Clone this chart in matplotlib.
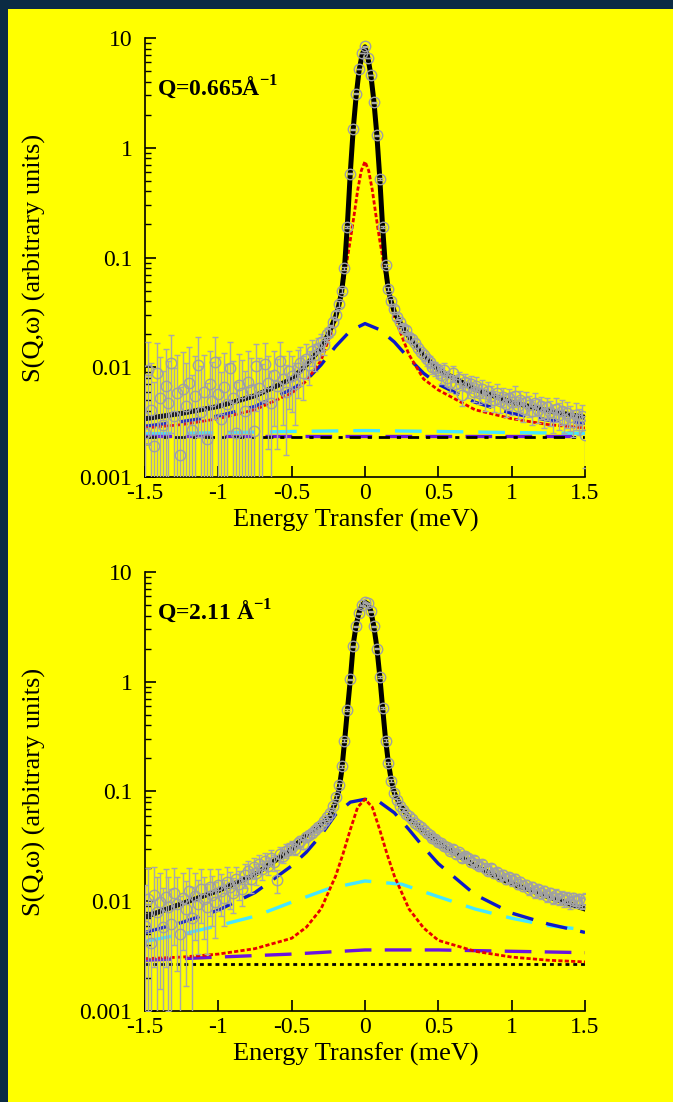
import numpy as np
import matplotlib
matplotlib.use('Agg')
import matplotlib.pyplot as plt
from matplotlib.patches import Rectangle
from matplotlib.ticker import FixedLocator, LogLocator, NullFormatter

plt.rcParams['font.family'] = ['Liberation Serif', 'DejaVu Serif']
plt.rcParams['mathtext.fontset'] = 'custom'
plt.rcParams['mathtext.rm'] = 'Liberation Serif'
plt.rcParams['mathtext.bf'] = 'Liberation Serif:bold'
plt.rcParams['axes.unicode_minus'] = False

# energy bins of the measured points (meV), step 0.02
energy = np.round(np.linspace(-1.5, 1.5, 151), 2)

# ---------------- Q = 0.665 ----------------
top_data = [
    0.0025, 0.0095, 0.0041, 0.0019, 0.0088, 0.0053, 0.0030, 0.0068, 0.0047, 0.0110,
    0.0036, 0.0058, 0.0016, 0.0064, 0.0044, 0.0072, 0.0027, 0.0055, 0.0105, 0.0039,
    0.0060, 0.0022, 0.0070, 0.0049, 0.0112, 0.0057, 0.0034, 0.0066, 0.0046, 0.0098,
    0.0052, 0.0025, 0.0069, 0.0058, 0.0040, 0.0074, 0.0062, 0.0026, 0.0102, 0.0065,
    0.0055, 0.0108, 0.0072, 0.0047, 0.0085, 0.0068, 0.0115, 0.0078, 0.0060, 0.0092,
    0.0083, 0.0070, 0.0098, 0.0110, 0.0088, 0.0120, 0.0105, 0.0140, 0.0128, 0.0150,
    0.0170, 0.0160, 0.0200, 0.0215, 0.0260, 0.0300, 0.0380, 0.0500, 0.0800, 0.1900,
    0.58, 1.48, 3.1, 5.2, 7.3, 8.4, 6.6, 4.6, 2.6, 1.30,
    0.52, 0.19, 0.085, 0.052, 0.040, 0.034, 0.029, 0.026, 0.023, 0.022,
    0.019, 0.018, 0.0165, 0.0150, 0.0138, 0.0130, 0.0118, 0.0112, 0.0100, 0.0098,
    0.0094, 0.0085, 0.0095, 0.0080, 0.0072, 0.0088, 0.0070, 0.0078, 0.0056, 0.0074,
    0.0066, 0.0071, 0.0060, 0.0068, 0.0058, 0.0064, 0.0052, 0.0061, 0.0055, 0.0050,
    0.0058, 0.0049, 0.0054, 0.0046, 0.0052, 0.0048, 0.0055, 0.0044, 0.0050, 0.0042,
    0.0048, 0.0045, 0.0040, 0.0047, 0.0041, 0.0044, 0.0038, 0.0043, 0.0039, 0.0035,
    0.0042, 0.0037, 0.0040, 0.0034, 0.0038, 0.0035, 0.0032, 0.0037, 0.0033, 0.0036,
    0.0024]
top_err = [
    0.0060, 0.0075, 0.0068, 0.0055, 0.0080, 0.0070, 0.0062, 0.0078, 0.0066, 0.0085,
    0.0062, 0.0072, 0.0050, 0.0074, 0.0066, 0.0080, 0.0058, 0.0072, 0.0082, 0.0064,
    0.0068, 0.0050, 0.0072, 0.0062, 0.0078, 0.0066, 0.0056, 0.0070, 0.0060, 0.0072,
    0.0062, 0.0048, 0.0064, 0.0058, 0.0052, 0.0066, 0.0060, 0.0044, 0.0062, 0.0056,
    0.0052, 0.0060, 0.0054, 0.0046, 0.0056, 0.0050, 0.0054, 0.0048, 0.0044, 0.0050,
    0.0044, 0.0040, 0.0046, 0.0042, 0.0038, 0.0042, 0.0036, 0.0038, 0.0035, 0.0034,
    0.0032, 0.0030, 0.0029, 0.0027, 0.0026, 0.0024, 0.0024, 0.0024, 0.0026, 0.0040,
    0.008, 0.015, 0.025, 0.035, 0.040, 0.045, 0.040, 0.030, 0.022, 0.015,
    0.008, 0.004, 0.0025, 0.0022, 0.0020, 0.0020, 0.0018, 0.0018, 0.0017, 0.0017,
    0.0016, 0.0016, 0.0016, 0.0015, 0.0015, 0.0015, 0.0015, 0.0014, 0.0014, 0.0014,
    0.0014, 0.0014, 0.0014, 0.0013, 0.0013, 0.0014, 0.0013, 0.0013, 0.0012, 0.0013,
    0.0013, 0.0013, 0.0012, 0.0013, 0.0012, 0.0012, 0.0012, 0.0012, 0.0012, 0.0011,
    0.0012, 0.0011, 0.0011, 0.0011, 0.0011, 0.0011, 0.0012, 0.0010, 0.0011, 0.0010,
    0.0011, 0.0010, 0.0010, 0.0011, 0.0010, 0.0010, 0.0010, 0.0010, 0.0010, 0.0010,
    0.0010, 0.0010, 0.0010, 0.0009, 0.0010, 0.0009, 0.0009, 0.0010, 0.0009, 0.0009,
    0.0012]

top_fit_x = [-1.5, -1.25, -1.0, -0.75, -0.5, -0.4, -0.3, -0.25, -0.2, -0.18, -0.16, -0.14,
             -0.12, -0.1, -0.08, -0.06, -0.04, -0.02, 0, 0.02, 0.04, 0.06, 0.08, 0.1,
             0.12, 0.14, 0.16, 0.18, 0.2, 0.25, 0.3, 0.4, 0.5, 0.75, 1.0, 1.25, 1.5]
top_fit_y = [0.0034, 0.0038, 0.0044, 0.0055, 0.0078, 0.0105, 0.015, 0.02, 0.029, 0.036, 0.048, 0.08,
             0.2, 0.6, 1.5, 3.0, 5.1, 7.0, 8.3, 6.6, 4.6, 2.7, 1.35, 0.55,
             0.19, 0.08, 0.05, 0.039, 0.032, 0.024, 0.019, 0.0128, 0.0095, 0.0063, 0.0048, 0.0040, 0.0035]

top_red_x = [-1.5, -1.25, -1.0, -0.75, -0.5, -0.4, -0.3, -0.2, -0.15, -0.1, -0.075, -0.05, -0.025, 0,
             0.025, 0.05, 0.075, 0.1, 0.15, 0.2, 0.3, 0.4, 0.5, 0.75, 1.0, 1.25, 1.5]
top_red_y = [0.0028, 0.0030, 0.0034, 0.0041, 0.0058, 0.0075, 0.0115, 0.027, 0.055, 0.145, 0.24, 0.41, 0.62, 0.75,
             0.62, 0.41, 0.24, 0.145, 0.058, 0.029, 0.013, 0.0078, 0.0062, 0.0041, 0.0034, 0.0030, 0.0028]

top_blue_x = [-1.5, -1.25, -1.0, -0.75, -0.5, -0.4, -0.3, -0.2, -0.1, 0, 0.1, 0.2, 0.3, 0.4, 0.5,
              0.75, 1.0, 1.25, 1.5]
top_blue_y = [0.0029, 0.0032, 0.0036, 0.0044, 0.0063, 0.0076, 0.0105, 0.0155, 0.0215, 0.025, 0.022,
              0.017, 0.012, 0.0088, 0.0070, 0.0048, 0.0038, 0.0033, 0.0031]

top_cyan_x = [-1.5, -1.0, -0.5, 0, 0.5, 1.0, 1.5]
top_cyan_y = [0.00248, 0.00253, 0.0026, 0.00265, 0.0026, 0.00254, 0.0025]
top_purple_x = [-1.5, 1.5]
top_purple_y = [0.00235, 0.00235]
top_bg_x = [-1.5, 1.5]
top_bg_y = [0.00232, 0.00232]

# ---------------- Q = 2.11 ----------------
bot_data = [
    0.0060, 0.0105, 0.0042, 0.0115, 0.0080, 0.0098, 0.0058, 0.0110, 0.0088, 0.0062,
    0.0120, 0.0095, 0.0050, 0.0108, 0.0085, 0.0125, 0.0070, 0.0112, 0.0095, 0.0130,
    0.0105, 0.0088, 0.0135, 0.0115, 0.0098, 0.0140, 0.0125, 0.0108, 0.0150, 0.0135,
    0.0120, 0.0160, 0.0145, 0.0130, 0.0175, 0.0190, 0.0158, 0.0205, 0.0180, 0.0220,
    0.0195, 0.0235, 0.0210, 0.0250, 0.0228, 0.0155, 0.0270, 0.0258, 0.0290, 0.0300,
    0.0315, 0.0300, 0.0340, 0.0355, 0.0330, 0.0385, 0.0400, 0.0420, 0.0450, 0.0470,
    0.0500, 0.0540, 0.0580, 0.0640, 0.0740, 0.0900, 0.115, 0.17, 0.29, 0.55,
    1.05, 2.1, 3.2, 4.2, 5.0, 5.3, 5.2, 4.4, 3.2, 2.0,
    1.1, 0.58, 0.29, 0.18, 0.125, 0.097, 0.083, 0.074, 0.068, 0.063,
    0.060, 0.056, 0.052, 0.050, 0.047, 0.045, 0.042, 0.040, 0.038, 0.037,
    0.035, 0.034, 0.032, 0.031, 0.029, 0.030, 0.027, 0.028, 0.025, 0.026,
    0.025, 0.023, 0.024, 0.022, 0.021, 0.022, 0.020, 0.019, 0.020, 0.018,
    0.0185, 0.017, 0.0175, 0.016, 0.0165, 0.0155, 0.016, 0.0145, 0.015, 0.0138,
    0.0142, 0.0130, 0.0135, 0.0122, 0.0128, 0.0118, 0.0124, 0.0112, 0.0118, 0.0108,
    0.0114, 0.0105, 0.0110, 0.0102, 0.0108, 0.0098, 0.0106, 0.0100, 0.0104, 0.0097,
    0.0105]
bot_err = [
    0.0080, 0.0095, 0.0060, 0.0090, 0.0085, 0.0082, 0.0075, 0.0085, 0.0078, 0.0068,
    0.0080, 0.0072, 0.0062, 0.0072, 0.0068, 0.0075, 0.0064, 0.0068, 0.0062, 0.0066,
    0.0060, 0.0055, 0.0062, 0.0056, 0.0052, 0.0058, 0.0052, 0.0048, 0.0054, 0.0050,
    0.0042, 0.0046, 0.0042, 0.0040, 0.0044, 0.0045, 0.0040, 0.0044, 0.0040, 0.0042,
    0.0040, 0.0042, 0.0038, 0.0042, 0.0038, 0.0036, 0.0040, 0.0036, 0.0040, 0.0036,
    0.0036, 0.0034, 0.0036, 0.0035, 0.0033, 0.0035, 0.0034, 0.0034, 0.0034, 0.0033,
    0.0033, 0.0033, 0.0033, 0.0034, 0.0035, 0.0038, 0.004, 0.005, 0.008, 0.012,
    0.02, 0.03, 0.04, 0.045, 0.05, 0.05, 0.05, 0.045, 0.04, 0.03,
    0.02, 0.012, 0.008, 0.005, 0.004, 0.0035, 0.0033, 0.0032, 0.0031, 0.003,
    0.003, 0.0029, 0.0028, 0.0028, 0.0027, 0.0027, 0.0026, 0.0026, 0.0025, 0.0025,
    0.0025, 0.0024, 0.0024, 0.0023, 0.0023, 0.0023, 0.0022, 0.0022, 0.0021, 0.0021,
    0.0021, 0.002, 0.002, 0.002, 0.0019, 0.0019, 0.0019, 0.0018, 0.0018, 0.0018,
    0.0018, 0.0017, 0.0017, 0.0017, 0.0017, 0.0016, 0.0016, 0.0016, 0.0016, 0.0015,
    0.0015, 0.0015, 0.0015, 0.0015, 0.0014, 0.0014, 0.0014, 0.0014, 0.0014, 0.0014,
    0.0014, 0.0013, 0.0013, 0.0013, 0.0013, 0.0013, 0.0013, 0.0013, 0.0013, 0.0012,
    0.0013]

bot_fit_x = [-1.5, -1.25, -1.0, -0.75, -0.5, -0.4, -0.3, -0.24, -0.2, -0.18, -0.16, -0.14, -0.12,
             -0.1, -0.08, -0.06, -0.04, -0.02, 0, 0.02, 0.04, 0.06, 0.08, 0.1, 0.12, 0.14,
             0.16, 0.18, 0.2, 0.24, 0.3, 0.4, 0.5, 0.75, 1.0, 1.25, 1.5]
bot_fit_y = [0.0072, 0.0095, 0.0125, 0.0175, 0.030, 0.040, 0.050, 0.060, 0.080, 0.10, 0.15, 0.28, 0.55,
             1.05, 2.2, 3.3, 4.3, 5.0, 5.3, 5.1, 4.4, 3.2, 2.1, 1.15, 0.58, 0.30,
             0.18, 0.125, 0.097, 0.075, 0.058, 0.044, 0.034, 0.021, 0.0145, 0.011, 0.0085]

bot_red_x = [-1.5, -1.25, -1.0, -0.75, -0.5, -0.4, -0.3, -0.2, -0.15, -0.1, -0.05, 0,
             0.05, 0.1, 0.15, 0.2, 0.3, 0.4, 0.5, 0.75, 1.0, 1.25, 1.5]
bot_red_y = [0.0030, 0.0031, 0.0033, 0.0037, 0.0046, 0.0058, 0.0085, 0.017, 0.027, 0.045, 0.072, 0.085,
             0.072, 0.045, 0.027, 0.017, 0.0085, 0.0057, 0.0044, 0.0035, 0.0031, 0.0029, 0.0028]

bot_blue_x = [-1.5, -1.25, -1.0, -0.75, -0.5, -0.4, -0.3, -0.2, -0.1, 0, 0.1, 0.2, 0.3, 0.4, 0.5,
              0.75, 1.0, 1.25, 1.5]
bot_blue_y = [0.0052, 0.0064, 0.0083, 0.012, 0.021, 0.028, 0.040, 0.062, 0.080, 0.085, 0.080,
              0.064, 0.045, 0.031, 0.022, 0.0115, 0.0078, 0.0062, 0.0052]

bot_cyan_x = [-1.5, -1.25, -1.0, -0.75, -0.5, -0.25, 0, 0.25, 0.5, 0.75, 1.0, 1.25, 1.5]
bot_cyan_y = [0.0043, 0.0050, 0.0060, 0.0073, 0.0098, 0.013, 0.0153, 0.0143, 0.011, 0.0085,
              0.0070, 0.0060, 0.0055]
bot_purple_x = [-1.5, -1.0, -0.5, 0, 0.5, 1.0, 1.5]
bot_purple_y = [0.0029, 0.0031, 0.0033, 0.0036, 0.0036, 0.0035, 0.0034]
bot_bg_x = [-1.5, 1.5]
bot_bg_y = [0.0027, 0.0027]

xticks = [-1.5, -1, -0.5, 0, 0.5, 1, 1.5]
xtick_labels = ['-1.5', '-1', '-0.5', '0', '0.5', '1', '1.5']
yticks = [0.001, 0.01, 0.1, 1, 10]
ytick_labels = ['0.001', '0.01', '0.1', '1', '10']

fig = plt.figure(figsize=(6.73, 11.02), dpi=100)
fig.patch.set_facecolor('#0b2b44')
fig.add_artist(Rectangle((7.5 / 673, 0), 1, 1 - 9 / 1102, transform=fig.transFigure,
                         facecolor='#ffff00', edgecolor='none', zorder=0))


def panel(ax, data, err, fit, red, blue, cyan, purple, bg, bg_style, qtext, qy):
    ax.set_facecolor('none')
    data = np.array(data)
    err = np.array(err)
    low = np.minimum(err, data - 1e-4)
    ax.plot(cyan[0], cyan[1], color='#45e6ff', lw=2.4, ls=(0, (8, 4.5)), zorder=2)
    ax.plot(purple[0], purple[1], color='#6a14e0', lw=2.4, ls=(0, (8, 4)), zorder=2)
    ax.plot(bg[0], bg[1], color='black', lw=2.0, ls=bg_style, zorder=2.5)
    ax.plot(blue[0], blue[1], color='#0c18c8', lw=2.4, ls=(0, (6.5, 4)), zorder=2)
    ax.plot(red[0], red[1], color='#e80000', lw=2.0, ls=(0, (1.5, 0.8)), zorder=2.6)
    ax.plot(fit[0], fit[1], color='black', lw=3.6, zorder=3)
    ax.errorbar(energy, data, yerr=[low, err], fmt='o', mfc='none', mec='#a0a0a0', ms=7.5,
                mew=1.0, ecolor='#a8a8a8', elinewidth=1.0, capsize=2.5, capthick=1.0, zorder=4)

    ax.set_yscale('log')
    ax.set_xlim(-1.5, 1.5)
    ax.set_ylim(0.001, 10)
    ax.spines['top'].set_visible(False)
    ax.spines['right'].set_visible(False)
    ax.spines['left'].set_linewidth(1.2)
    ax.spines['bottom'].set_linewidth(1.2)
    ax.xaxis.set_major_locator(FixedLocator(xticks))
    ax.set_xticklabels(xtick_labels)
    ax.yaxis.set_major_locator(FixedLocator(yticks))
    ax.set_yticklabels(ytick_labels)
    ax.yaxis.set_minor_locator(LogLocator(base=10, subs=np.arange(2, 10)))
    ax.yaxis.set_minor_formatter(NullFormatter())
    ax.tick_params(axis='x', direction='in', length=8, width=1.2, labelsize=17, pad=4, top=False)
    ax.tick_params(axis='y', which='major', direction='in', length=8, width=1.2, labelsize=17,
                   pad=9, right=False)
    ax.tick_params(axis='y', which='minor', direction='in', length=4.5, width=1.0, right=False)
    ax.set_xlabel('Energy Transfer (meV)', fontsize=19)
    ax.set_ylabel('S(Q,\u03c9) (arbitrary units)', fontsize=19)
    ax.yaxis.set_label_coords(-0.225, 0.5)
    ax.xaxis.set_label_coords(0.48, -0.072)
    ax.text(0.028, qy, qtext, transform=ax.transAxes, fontsize=17, fontweight='bold',
            va='center', ha='left')


ax1 = fig.add_axes([145 / 673, 1 - 477 / 1102, 440 / 673, 439 / 1102])
panel(ax1, top_data, top_err, (top_fit_x, top_fit_y), (top_red_x, top_red_y),
      (top_blue_x, top_blue_y), (top_cyan_x, top_cyan_y), (top_purple_x, top_purple_y),
      (top_bg_x, top_bg_y), (0, (4, 2.5, 1.5, 2.5)), 'Q=0.665Å$^{\\mathbf{-1}}$', 0.888)

ax2 = fig.add_axes([145 / 673, 1 - 1011 / 1102, 440 / 673, 439 / 1102])
panel(ax2, bot_data, bot_err, (bot_fit_x, bot_fit_y), (bot_red_x, bot_red_y),
      (bot_blue_x, bot_blue_y), (bot_cyan_x, bot_cyan_y), (bot_purple_x, bot_purple_y),
      (bot_bg_x, bot_bg_y), (0, (1.4, 1.4)), 'Q=2.11 Å$^{\\mathbf{-1}}$', 0.91)

fig.savefig('out.png', dpi=100, facecolor=fig.get_facecolor())
